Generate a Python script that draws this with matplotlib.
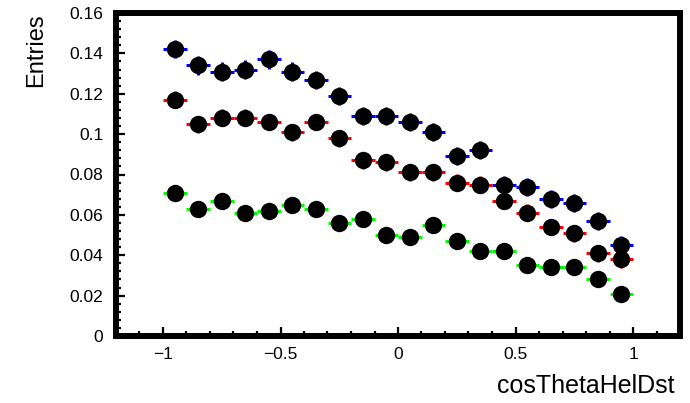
import numpy as np
import matplotlib
matplotlib.use("Agg")
import matplotlib.pyplot as plt
from matplotlib.ticker import MultipleLocator, FixedLocator, FuncFormatter

plt.rcParams['font.family'] = ['Liberation Sans', 'DejaVu Sans']

bin_edges = np.round(np.arange(-1.0, 1.0001, 0.1), 2)
bin_centers = (bin_edges[:-1] + bin_edges[1:]) / 2

blue = [0.142, 0.134, 0.131, 0.132, 0.137, 0.131, 0.127, 0.119, 0.109, 0.109,
        0.106, 0.101, 0.089, 0.092, 0.075, 0.074, 0.068, 0.066, 0.057, 0.045]
red = [0.117, 0.105, 0.108, 0.108, 0.106, 0.101, 0.106, 0.098, 0.087, 0.086,
       0.081, 0.081, 0.076, 0.075, 0.067, 0.061, 0.054, 0.051, 0.041, 0.038]
green = [0.071, 0.063, 0.067, 0.061, 0.062, 0.065, 0.063, 0.056, 0.058, 0.050,
         0.049, 0.055, 0.047, 0.042, 0.042, 0.035, 0.034, 0.034, 0.028, 0.021]
blue_err = [0.0045] * 20
red_err = [0.0042] * 20
green_err = [0.0034] * 20

series = [(blue, blue_err, '#0000ff'), (red, red_err, '#ff0000'), (green, green_err, '#00ff00')]

W, H = 690, 403
fig = plt.figure(figsize=(W / 100, H / 100), dpi=100)
left, right, bottom, top = 116, 680, 336, 13
ax = fig.add_axes([left / W, 1 - bottom / H, (right - left) / W, (bottom - top) / H])

half_w = np.diff(bin_edges) / 2
for vals, errs, col in series:
    ax.errorbar(bin_centers, vals, xerr=half_w, yerr=errs, fmt='none',
                ecolor=col, elinewidth=2.2, capsize=0, zorder=2)
for vals, errs, col in series:
    ax.plot(bin_centers, vals, 'o', color='black', markersize=12.5,
            markeredgewidth=0, zorder=3)

ax.set_xlim(-1.2, 1.2)
ax.set_ylim(0, 0.16)

for s in ax.spines.values():
    s.set_linewidth(4.3)
    s.set_color('black')

def fmt(v, pos):
    s = '%g' % round(v, 4)
    return s.replace('-', '\u2212')

ax.xaxis.set_major_locator(FixedLocator([-1, -0.5, 0, 0.5, 1]))
ax.xaxis.set_minor_locator(MultipleLocator(0.1))
ax.yaxis.set_major_locator(MultipleLocator(0.02))
ax.yaxis.set_minor_locator(MultipleLocator(0.004))
ax.xaxis.set_major_formatter(FuncFormatter(fmt))
ax.yaxis.set_major_formatter(FuncFormatter(fmt))
ax.tick_params(axis='both', which='major', direction='in', length=6.5, width=1.6,
               labelsize=12.5, top=False, right=False)
ax.tick_params(axis='both', which='minor', direction='in', length=3.3, width=1.6,
               top=False, right=False)
ax.tick_params(axis='y', which='major', pad=9)
ax.tick_params(axis='x', which='major', pad=8)

fig.text(675 / W, 1 - 393 / H, 'cosThetaHelDst', fontsize=18, ha='right', va='baseline')
fig.text(36 / W, 1 - 13 / H, 'Entries', fontsize=17, rotation=90, ha='center', va='top')

fig.savefig('out.png', dpi=100)
